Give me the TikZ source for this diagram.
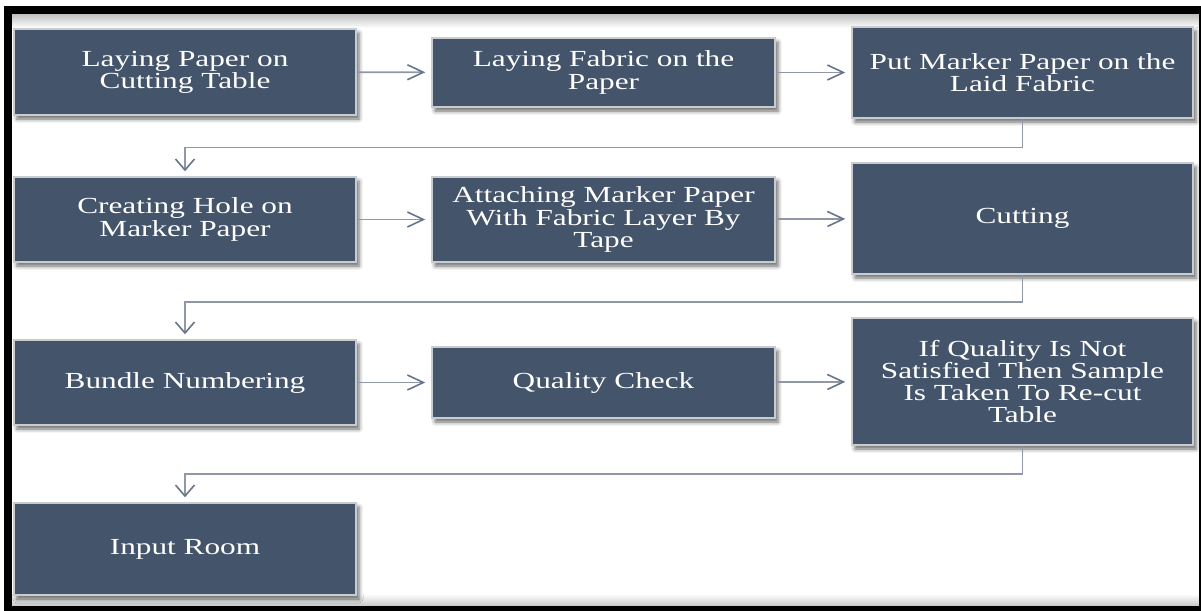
\documentclass[tikz,border=0pt]{standalone}
\usepackage{fontspec}
\setmainfont{Liberation Serif}[FakeStretch=1.36]
\usetikzlibrary{arrows.meta,shadows.blur}
\definecolor{boxfill}{HTML}{44546A}
\definecolor{boxedge}{HTML}{C8CBD0}
\definecolor{linkline}{HTML}{9098A6}
\definecolor{linktip}{HTML}{66758A}

\begin{document}
\begin{tikzpicture}[x=1pt,y=-1pt,
  stepbox/.style={rectangle, fill=boxfill, draw=boxedge, line width=1.5pt,
    text=white, align=center, inner sep=0pt,
    font=\fontsize{23}{22.2}\selectfont,
    blur shadow={shadow xshift=3pt, shadow yshift=-4pt,
      shadow blur radius=4pt, shadow opacity=60}},
  hlink/.style={draw=linkline, line width=1.8pt, shorten >=6pt,
    -{Straight Barb[length=16pt,width=15pt,color=linktip,line width=1.6pt]}},
  vlink/.style={draw=linkline, line width=1.8pt, shorten >=5pt,
    -{Straight Barb[length=11pt,width=19pt,color=linktip,line width=1.6pt]}}]

\useasboundingbox (0,0) rectangle (1201,610);

% soft inner shading along the frame
\shade[top color=black!25, bottom color=white] (12,14) rectangle (1199,28);
\shade[top color=white, bottom color=black!22] (12,594) rectangle (1199,606);

% outer frame
\draw[line width=8pt] (8,10) rectangle (1203,610);

% process steps
\node[stepbox, minimum width=342, minimum height=86]  (b1)  at (185,72)    {Laying Paper on\\Cutting Table};
\node[stepbox, minimum width=343, minimum height=69]  (b2)  at (603.5,72.5) {Laying Fabric on the\\Paper};
\node[stepbox, minimum width=341, minimum height=91]  (b3)  at (1022.5,72.5) {Put Marker Paper on the\\Laid Fabric};

\node[stepbox, minimum width=342, minimum height=85]  (b4)  at (185,219.5) {Creating Hole on\\Marker Paper};
\node[stepbox, minimum width=343, minimum height=85]  (b5)  at (603.5,219.5) {Attaching Marker Paper\\With Fabric Layer By\\Tape};
\node[stepbox, minimum width=341, minimum height=111] (b6)  at (1022.5,218.5) {Cutting};

\node[stepbox, minimum width=342, minimum height=85]  (b7)  at (185,382.5) {Bundle Numbering};
\node[stepbox, minimum width=343, minimum height=71]  (b8)  at (603.5,382.5) {Quality Check};
\node[stepbox, minimum width=341, minimum height=127] (b9)  at (1022.5,381.5) {If Quality Is Not\\Satisfied Then Sample\\Is Taken To Re-cut\\Table};

\node[stepbox, minimum width=342, minimum height=92]  (b10) at (185,549)   {Input Room};

% bends of the row-to-row connectors
\coordinate (j1) at (185,147.5);
\coordinate (j2) at (185,302);
\coordinate (j3) at (185,474);

% connectors within rows
\draw[hlink] (b1) -- (b2);
\draw[hlink] (b2) -- (b3);
\draw[hlink] (b4) -- (b5);
\draw[hlink] (b5) -- (b6);
\draw[hlink] (b7) -- (b8);
\draw[hlink] (b8) -- (b9);

% connectors between rows
\draw[vlink] (b3.south) |- (j1) -- (b4.north);
\draw[vlink] (b6.south) |- (j2) -- (b7.north);
\draw[vlink] (b9.south) |- (j3) -- (b10.north);
\end{tikzpicture}
\end{document}
